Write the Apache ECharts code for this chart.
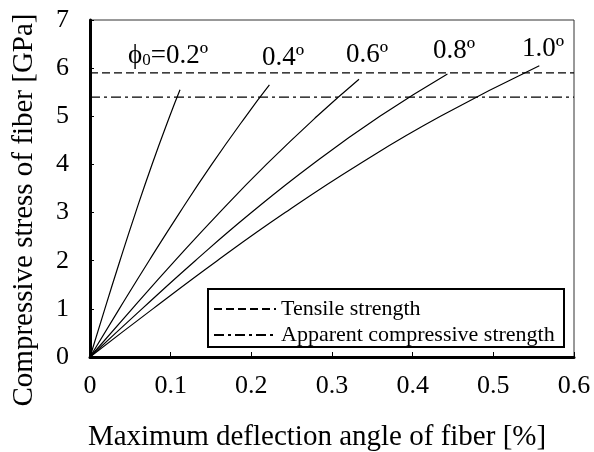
<!DOCTYPE html>
<html>
<head>
<meta charset="utf-8">
<script src="https://cdn.jsdelivr.net/npm/echarts@6/dist/echarts.min.js"></script>
<style>html,body{margin:0;padding:0;background:#fff;}#c{width:594px;height:452px;}</style>
</head>
<body>
<div id="c"></div>
<script>
// Data
const curveNames = ['0.2', '0.4', '0.6', '0.8', '1.0'];
const curve02 = [[0,0],[0.0184,1],[0.0371,2],[0.0565,3],[0.0769,4],[0.0988,5],[0.1116,5.55]];
const curve04 = [[0,0],[0.0363,1],[0.0732,2],[0.1112,3],[0.1509,4],[0.1932,5],[0.2224,5.65]];
const curve06 = [[0,0],[0.0522,1],[0.1054,2],[0.1605,3],[0.2187,4],[0.2814,5],[0.3335,5.77]];
const curve08 = [[0,0],[0.0644,1],[0.1305,2],[0.2001,3],[0.2755,4],[0.3593,5],[0.4431,5.88]];
const curve10 = [[0,0],[0.0779,1],[0.1577,2],[0.2419,3],[0.3331,4],[0.4344,5],[0.5570,6.05]];
const tensileStrength = 5.9;
const apparentCompressiveStrength = 5.4;
const xTicks = [0, 0.1, 0.2, 0.3, 0.4, 0.5, 0.6];
const yTicks = [0, 1, 2, 3, 4, 5, 6, 7];
const legendNames = ['Tensile strength', 'Apparent compressive strength'];

const FONT = '"Liberation Serif","Times New Roman",serif';
const chart = echarts.init(document.getElementById('c'));

const curves = [curve02, curve04, curve06, curve08, curve10];
const series = curves.map((d, i) => ({
  name: 'phi' + curveNames[i],
  type: 'line',
  data: d,
  smooth: true,
  symbol: 'none',
  color: '#000',
  lineStyle: { color: '#000', width: 1.2 },
  silent: true,
  z: 3
}));
series.push({
  name: legendNames[0], type: 'line', symbol: 'none', color: '#000',
  data: [[xTicks[0], tensileStrength], [xTicks[xTicks.length-1], tensileStrength]],
  lineStyle: { color: '#000', width: 1.2, type: [8, 4] }, z: 2
});
series.push({
  name: legendNames[1], type: 'line', symbol: 'none', color: '#000',
  data: [[xTicks[0], apparentCompressiveStrength], [xTicks[xTicks.length-1], apparentCompressiveStrength]],
  lineStyle: { color: '#000', width: 1.2, type: [10, 4, 3, 4] }, z: 2
});

const labelStyle = { fontFamily: FONT, fontSize: 27, fill: '#000' };

chart.setOption({
  animation: false,
  backgroundColor: '#fff',
  grid: { left: 90, right: 20, top: 20, bottom: 95, show: true, borderColor: '#333', borderWidth: 1 },
  xAxis: {
    type: 'value', min: xTicks[0], max: xTicks[xTicks.length-1], interval: 0.1,
    axisLine: { show: true, lineStyle: { color: '#000', width: 3 } },
    axisTick: { show: true, inside: true, length: 5, lineStyle: { color: '#000', width: 1 } },
    axisLabel: { color: '#000', fontFamily: FONT, fontSize: 26, margin: 16 },
    splitLine: { show: false }
  },
  yAxis: {
    type: 'value', min: yTicks[0], max: yTicks[yTicks.length-1], interval: 1,
    axisLine: { show: true, lineStyle: { color: '#000', width: 3 } },
    axisTick: { show: true, inside: true, length: 4, lineStyle: { color: '#000', width: 1 } },
    axisLabel: { color: '#000', fontFamily: FONT, fontSize: 26, margin: 21 },
    splitLine: { show: false }
  },
  legend: {
    data: legendNames,
    orient: 'vertical', left: 213, top: 298,
    itemWidth: 62, itemHeight: 14, itemGap: 4, padding: 0,
    itemStyle: { opacity: 0 },
    textStyle: { color: '#000', fontFamily: FONT, fontSize: 22 },
    selectedMode: false
  },
  graphic: [
    { type: 'rect', shape: { x: 208, y: 289, width: 356, height: 58 }, style: { fill: 'rgba(255,255,255,0)', stroke: '#000', lineWidth: 2 }, z: 10 },
    { type: 'text', left: 128, top: 42, style: { text: '{a|ϕ}{s|0}{a|=0.2º}', rich: { a: { fontFamily: FONT, fontSize: 27, lineHeight: 30, verticalAlign: 'bottom' }, s: { fontFamily: FONT, fontSize: 17, lineHeight: 22, verticalAlign: 'bottom' } } } },
    { type: 'text', left: 262, top: 44, style: Object.assign({ text: '0.4º' }, labelStyle) },
    { type: 'text', left: 346, top: 41, style: Object.assign({ text: '0.6º' }, labelStyle) },
    { type: 'text', left: 433, top: 37, style: Object.assign({ text: '0.8º' }, labelStyle) },
    { type: 'text', left: 522, top: 35, style: Object.assign({ text: '1.0º' }, labelStyle) },
    { type: 'text', x: 317, y: 437, style: { text: 'Maximum deflection angle of fiber [%]', fontFamily: FONT, fontSize: 29, fill: '#000', align: 'center', verticalAlign: 'middle' } },
    { type: 'text', x: 24, y: 210, rotation: Math.PI / 2, style: { text: 'Compressive stress of fiber [GPa]', fontFamily: FONT, fontSize: 29, fill: '#000', align: 'center', verticalAlign: 'middle' } }
  ],
  series: series
});
</script>
</body>
</html>
